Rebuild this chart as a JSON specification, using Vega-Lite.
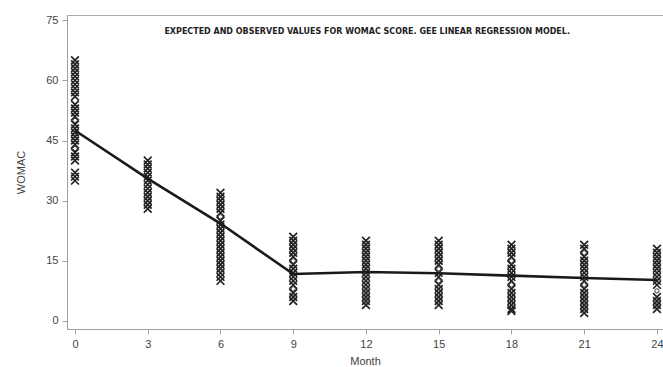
{
  "$schema": "https://vega.github.io/schema/vega-lite/v6.json",
  "autosize": {"type": "none"},
  "padding": {"left": 67, "top": 15, "right": 0, "bottom": 38},
  "width": 596,
  "height": 314,
  "background": "white",
  "config": {
    "view": {"stroke": "#aaaaaa", "strokeWidth": 1},
    "axis": {
      "grid": false,
      "domainColor": "#a0a0a0",
      "tickColor": "#a0a0a0",
      "labelColor": "#444444",
      "titleColor": "#444444",
      "labelFont": "Liberation Sans",
      "titleFont": "Liberation Sans",
      "labelFontSize": 11,
      "titleFontSize": 11,
      "titleFontWeight": "normal",
      "tickSize": 5
    }
  },
  "datasets": {
    "obs": [
      {"month": 0, "womac": 65}, {"month": 0, "womac": 64}, {"month": 0, "womac": 63}, {"month": 0, "womac": 62}, {"month": 0, "womac": 61}, {"month": 0, "womac": 60}, {"month": 0, "womac": 59}, {"month": 0, "womac": 58}, {"month": 0, "womac": 57}, {"month": 0, "womac": 56},
      {"month": 0, "womac": 54}, {"month": 0, "womac": 53}, {"month": 0, "womac": 52}, {"month": 0, "womac": 51}, {"month": 0, "womac": 49}, {"month": 0, "womac": 48}, {"month": 0, "womac": 47}, {"month": 0, "womac": 46}, {"month": 0, "womac": 45}, {"month": 0, "womac": 44}, {"month": 0, "womac": 42}, {"month": 0, "womac": 41}, {"month": 0, "womac": 40},
      {"month": 0, "womac": 37}, {"month": 0, "womac": 36}, {"month": 0, "womac": 35},
      {"month": 3, "womac": 40}, {"month": 3, "womac": 39}, {"month": 3, "womac": 38}, {"month": 3, "womac": 37}, {"month": 3, "womac": 36}, {"month": 3, "womac": 35}, {"month": 3, "womac": 34}, {"month": 3, "womac": 33}, {"month": 3, "womac": 32}, {"month": 3, "womac": 31}, {"month": 3, "womac": 30}, {"month": 3, "womac": 29}, {"month": 3, "womac": 28},
      {"month": 6, "womac": 32}, {"month": 6, "womac": 31}, {"month": 6, "womac": 30}, {"month": 6, "womac": 29}, {"month": 6, "womac": 28}, {"month": 6, "womac": 27}, {"month": 6, "womac": 25}, {"month": 6, "womac": 24}, {"month": 6, "womac": 23}, {"month": 6, "womac": 22}, {"month": 6, "womac": 21}, {"month": 6, "womac": 20}, {"month": 6, "womac": 19}, {"month": 6, "womac": 18}, {"month": 6, "womac": 17}, {"month": 6, "womac": 16}, {"month": 6, "womac": 15}, {"month": 6, "womac": 14}, {"month": 6, "womac": 13}, {"month": 6, "womac": 12}, {"month": 6, "womac": 11}, {"month": 6, "womac": 10},
      {"month": 9, "womac": 21}, {"month": 9, "womac": 20}, {"month": 9, "womac": 19}, {"month": 9, "womac": 18}, {"month": 9, "womac": 17}, {"month": 9, "womac": 16}, {"month": 9, "womac": 14}, {"month": 9, "womac": 13}, {"month": 9, "womac": 12}, {"month": 9, "womac": 11}, {"month": 9, "womac": 10}, {"month": 9, "womac": 9}, {"month": 9, "womac": 7}, {"month": 9, "womac": 6}, {"month": 9, "womac": 5},
      {"month": 12, "womac": 20}, {"month": 12, "womac": 19}, {"month": 12, "womac": 18}, {"month": 12, "womac": 17}, {"month": 12, "womac": 16}, {"month": 12, "womac": 15}, {"month": 12, "womac": 14}, {"month": 12, "womac": 13}, {"month": 12, "womac": 12}, {"month": 12, "womac": 11}, {"month": 12, "womac": 10}, {"month": 12, "womac": 9}, {"month": 12, "womac": 8}, {"month": 12, "womac": 7}, {"month": 12, "womac": 6}, {"month": 12, "womac": 5}, {"month": 12, "womac": 4},
      {"month": 15, "womac": 20}, {"month": 15, "womac": 19}, {"month": 15, "womac": 18}, {"month": 15, "womac": 17}, {"month": 15, "womac": 16}, {"month": 15, "womac": 15}, {"month": 15, "womac": 14}, {"month": 15, "womac": 12}, {"month": 15, "womac": 11}, {"month": 15, "womac": 9}, {"month": 15, "womac": 8}, {"month": 15, "womac": 7}, {"month": 15, "womac": 6}, {"month": 15, "womac": 5}, {"month": 15, "womac": 4},
      {"month": 18, "womac": 19}, {"month": 18, "womac": 18}, {"month": 18, "womac": 17}, {"month": 18, "womac": 16}, {"month": 18, "womac": 14}, {"month": 18, "womac": 13}, {"month": 18, "womac": 12}, {"month": 18, "womac": 11}, {"month": 18, "womac": 10}, {"month": 18, "womac": 8}, {"month": 18, "womac": 7}, {"month": 18, "womac": 6}, {"month": 18, "womac": 5}, {"month": 18, "womac": 4}, {"month": 18, "womac": 3}, {"month": 18, "womac": 2.5},
      {"month": 21, "womac": 19}, {"month": 21, "womac": 18}, {"month": 21, "womac": 16}, {"month": 21, "womac": 15}, {"month": 21, "womac": 14}, {"month": 21, "womac": 13}, {"month": 21, "womac": 12}, {"month": 21, "womac": 11}, {"month": 21, "womac": 10}, {"month": 21, "womac": 8}, {"month": 21, "womac": 7}, {"month": 21, "womac": 6}, {"month": 21, "womac": 5}, {"month": 21, "womac": 4}, {"month": 21, "womac": 3}, {"month": 21, "womac": 2},
      {"month": 24, "womac": 18}, {"month": 24, "womac": 17}, {"month": 24, "womac": 16}, {"month": 24, "womac": 15}, {"month": 24, "womac": 14}, {"month": 24, "womac": 13}, {"month": 24, "womac": 12}, {"month": 24, "womac": 11}, {"month": 24, "womac": 10}, {"month": 24, "womac": 9}, {"month": 24, "womac": 6}, {"month": 24, "womac": 5}, {"month": 24, "womac": 4}, {"month": 24, "womac": 3}
    ],
    "circ": [
      {"month": 0, "womac": 50}, {"month": 0, "womac": 43},
      {"month": 6, "womac": 26},
      {"month": 9, "womac": 15}, {"month": 9, "womac": 8},
      {"month": 15, "womac": 13}, {"month": 15, "womac": 10},
      {"month": 18, "womac": 15}, {"month": 18, "womac": 9},
      {"month": 21, "womac": 17}, {"month": 21, "womac": 9},
      {"month": 24, "womac": 7.5}
    ],
    "fit": [
      {"month": 0, "womac": 47.5}, {"month": 3, "womac": 35.5}, {"month": 6, "womac": 24.3}, {"month": 9, "womac": 11.7}, {"month": 12, "womac": 12.2}, {"month": 15, "womac": 11.9}, {"month": 18, "womac": 11.3}, {"month": 21, "womac": 10.7}, {"month": 24, "womac": 10.2}
    ],
    "label": [
      {"month": 12.05, "womac": 72.4, "text": "EXPECTED AND OBSERVED VALUES FOR WOMAC SCORE. GEE LINEAR REGRESSION MODEL."}
    ]
  },
  "encoding": {
    "x": {
      "field": "month", "type": "quantitative",
      "scale": {"domain": [-0.33, 24.25], "nice": false, "zero": false},
      "axis": {"title": "Month", "values": [0, 3, 6, 9, 12, 15, 18, 21, 24], "labelFlush": false, "labelOverlap": false, "labelPadding": 4, "titlePadding": 6}
    },
    "y": {
      "field": "womac", "type": "quantitative",
      "scale": {"domain": [-2, 76.3], "nice": false, "zero": false},
      "axis": {"title": "WOMAC", "values": [0, 15, 30, 45, 60, 75], "labelPadding": 4, "titlePadding": 19}
    }
  },
  "layer": [
    {
      "data": {"name": "obs"},
      "mark": {"type": "point", "shape": "M-1,-1L1,1M1,-1L-1,1", "filled": false, "size": 60, "stroke": "#222222", "strokeWidth": 1.7, "opacity": 1}
    },
    {
      "data": {"name": "circ"},
      "mark": {"type": "point", "shape": "circle", "filled": true, "fill": "white", "stroke": "#333333", "strokeWidth": 1, "size": 18, "opacity": 1}
    },
    {
      "data": {"name": "fit"},
      "mark": {"type": "line", "color": "#1a1a1a", "strokeWidth": 2.6}
    },
    {
      "data": {"name": "label"},
      "mark": {"type": "text", "font": "DejaVu Sans Condensed", "fontWeight": "bold", "fontSize": 8.9, "color": "#222222"},
      "encoding": {"text": {"field": "text"}}
    }
  ]
}
